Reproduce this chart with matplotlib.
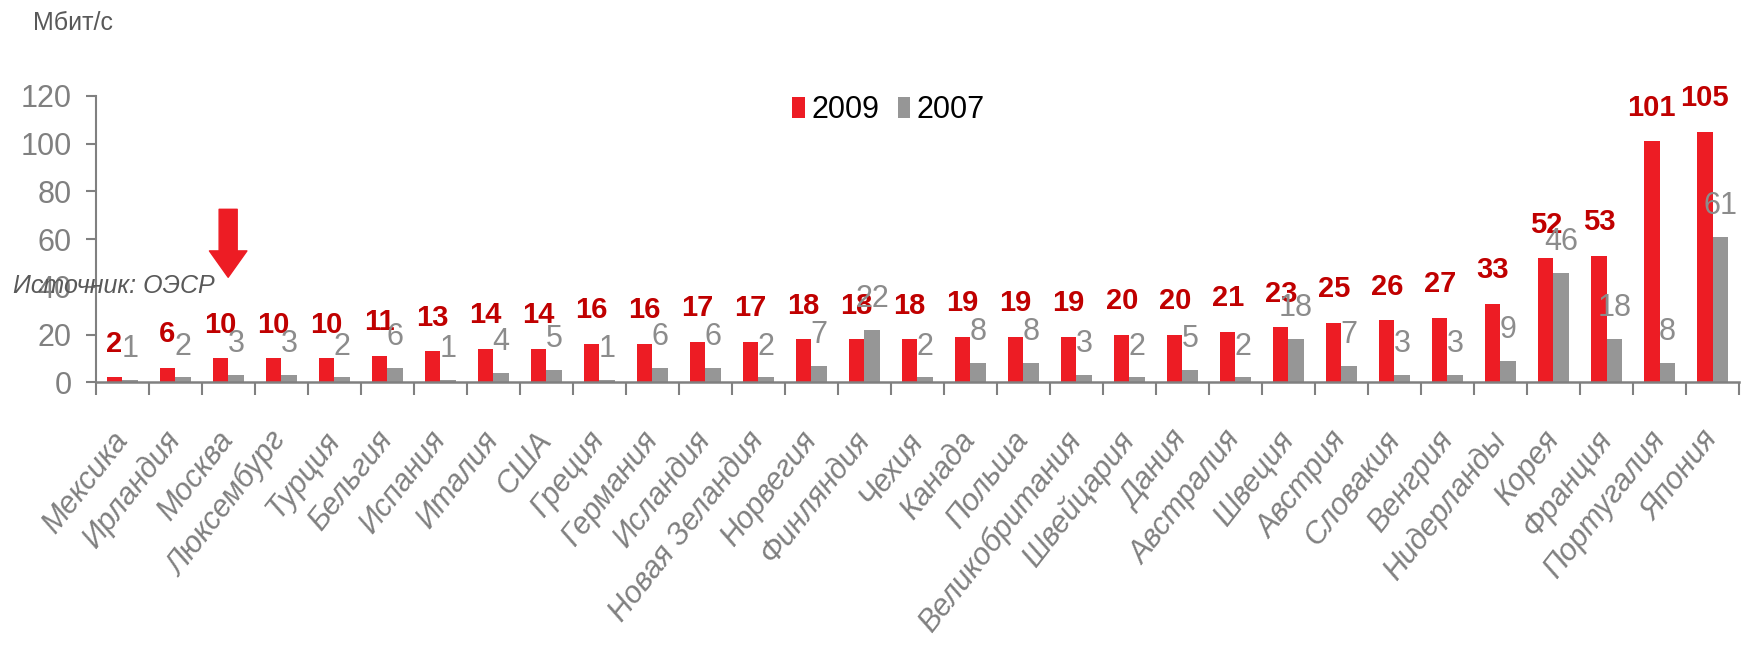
import matplotlib
matplotlib.use("Agg")
import matplotlib.pyplot as plt
import numpy as np

categories = ["Мексика", "Ирландия", "Москва", "Люксембург", "Турция", "Бельгия",
              "Испания", "Италия", "США", "Греция", "Германия", "Исландия",
              "Новая Зеландия", "Норвегия", "Финляндия", "Чехия", "Канада", "Польша",
              "Великобритания", "Швейцария", "Дания", "Австралия", "Швеция", "Австрия",
              "Словакия", "Венгрия", "Нидерланды", "Корея", "Франция", "Португалия", "Япония"]
v2009 = [2, 6, 10, 10, 10, 11, 13, 14, 14, 16, 16, 17, 17, 18, 18, 18, 19, 19, 19,
         20, 20, 21, 23, 25, 26, 27, 33, 52, 53, 101, 105]
v2007 = [1, 2, 3, 3, 2, 6, 1, 4, 5, 1, 6, 6, 2, 7, 22, 2, 8, 8, 3, 2, 5, 2, 18, 7,
         3, 3, 9, 46, 18, 8, 61]
yticks = [0, 20, 40, 60, 80, 100, 120]
series_names = ["2009", "2007"]
unit_label = "Мбит/с"
source_label = "Источник: ОЭСР"
highlight = "Москва"

RED = "#ED1C24"
GRAY = "#969696"
RED_TXT = "#C00000"
GRAY_TXT = "#8C8C8C"
AXIS = "#808080"
REG = ["Liberation Sans", "DejaVu Sans"]

fig = plt.figure(figsize=(17.42, 6.52), dpi=100)
ax = fig.add_axes([0.0549, 0.4137, 0.9434, 0.4391])

x = np.arange(len(categories))
w = 0.29
b1 = ax.bar(x - w / 2, v2009, width=w, color=RED, label=series_names[0], zorder=2)
b2 = ax.bar(x + w / 2, v2007, width=w, color=GRAY, label=series_names[1], zorder=2)

for xi, v in zip(x, v2009):
    ax.annotate(str(v), xy=(xi - w / 2, v), xytext=(0, 18.5), textcoords="offset points",
                ha="center", va="baseline", color=RED_TXT, fontsize=21,
                family=REG, fontweight="bold", annotation_clip=False)
for xi, v in zip(x, v2007):
    ax.annotate(str(v), xy=(xi + w / 2, v), xytext=(0, 16.5), textcoords="offset points",
                ha="center", va="baseline", color=GRAY_TXT, fontsize=22,
                family=REG, annotation_clip=False)

ax.set_xlim(-0.5, len(categories) - 0.5)
ax.set_ylim(0, 120)
ax.set_yticks(yticks)
ax.set_yticklabels([str(t) for t in yticks], family=REG, fontsize=22, color=AXIS)
ax.tick_params(axis="y", direction="out", length=7.2, width=1.5, color=AXIS, pad=10)

ax.set_xticks(np.arange(len(categories) + 1) - 0.5)
ax.set_xticklabels([])
ax.tick_params(axis="x", which="major", direction="out", length=9.4, width=1.5, color=AXIS)
ax.set_xticks(x, minor=True)
ax.set_xticklabels(categories, minor=True, rotation=52, ha="right", va="center",
                   rotation_mode="anchor", family=REG, style="italic", fontsize=22,
                   color=AXIS)
ax.tick_params(axis="x", which="minor", length=0, pad=38)

for s in ["top", "right"]:
    ax.spines[s].set_visible(False)
ax.spines["left"].set_color(AXIS)
ax.spines["left"].set_linewidth(1.5)
ax.spines["bottom"].set_color(AXIS)
ax.spines["bottom"].set_linewidth(1.8)
ax.spines["bottom"].set_zorder(3)

leg = fig.legend(handles=[b1, b2], labels=series_names, loc="center",
                 bbox_to_anchor=(0.51, 0.831), ncol=2, frameon=False,
                 prop={"family": REG, "size": 22}, handlelength=0.42,
                 handleheight=0.65, handletextpad=0.2, columnspacing=0.6)

fig.text(0.019, 0.965, unit_label, fontsize=18, color="#595959", family=REG,
         ha="left", va="center")
fig.text(0.0075, 0.561, source_label, fontsize=18, color="#595959", family=REG,
         style="italic", ha="left", va="center", zorder=5)

hi = categories.index(highlight)
ax.annotate("", xy=(hi, 44), xytext=(hi, 72.5), annotation_clip=False,
            arrowprops=dict(facecolor=RED, edgecolor=RED, width=13, headwidth=27,
                            headlength=19, shrink=0))

fig.savefig("out.png", dpi=100)
